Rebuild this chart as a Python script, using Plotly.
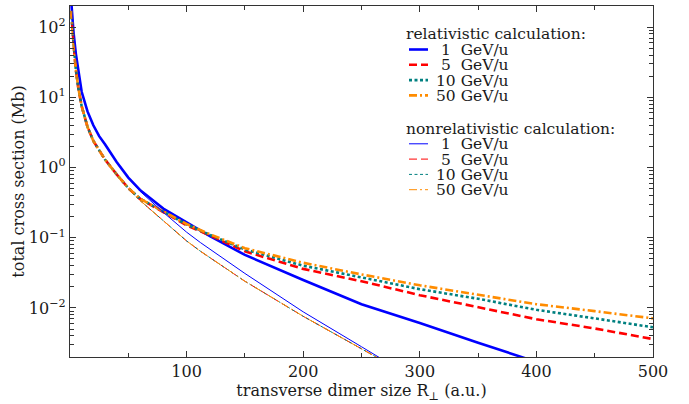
import plotly.graph_objects as go

# ---------------- data ----------------
R_rel = [1, 2, 3, 5, 7, 10, 15, 20, 25, 30, 40, 50, 60, 80, 100, 120, 150,
         200, 250, 300, 350, 400, 450, 500]
rel_1 = [240, 130, 85, 42, 24, 12, 6.3, 4.0, 2.8, 2.15, 1.2, 0.72, 0.48, 0.26,
         0.165, 0.105, 0.057, 0.025, 0.0113, 0.0061, 0.0032, 0.0017, None, None]
rel_5 = [170, 95, 60, 25, 14, 7.5, 3.8, 2.4, 1.75, 1.3, 0.8, 0.51, 0.36, 0.23,
         0.15, 0.108, 0.064, 0.036, 0.024, 0.0152, 0.0103, 0.0069, 0.0051, 0.0036]
rel_10 = [170, 95, 60, 25, 14, 7.5, 3.8, 2.4, 1.75, 1.3, 0.8, 0.51, 0.36, 0.235,
          0.155, 0.11, 0.068, 0.040, 0.027, 0.0185, 0.0135, 0.0094, 0.0071, 0.0053]
rel_50 = [170, 95, 60, 25, 14, 7.5, 3.8, 2.4, 1.75, 1.3, 0.8, 0.51, 0.36, 0.238,
          0.157, 0.112, 0.071, 0.044, 0.030, 0.021, 0.0155, 0.0113, 0.0090, 0.0071]

R_non = [1, 2, 3, 5, 7, 10, 15, 20, 25, 30, 40, 50, 60, 80, 100, 112, 150,
         200, 250, 265, 280]
non_1 = [240, 130, 85, 42, 24, 12, 6.3, 4.0, 2.8, 2.15, 1.2, 0.72, 0.46, 0.23,
         0.12, 0.085, 0.031, 0.0088, 0.0028, 0.0020, 0.0014]
non_5 = [170, 95, 60, 25, 14, 7.5, 3.8, 2.4, 1.75, 1.3, 0.8, 0.5, 0.34, 0.175,
         0.09, 0.064, 0.024, 0.0076, 0.0026, 0.0019, 0.0013]
non_10 = [170, 95, 60, 25, 14, 7.5, 3.8, 2.4, 1.75, 1.3, 0.8, 0.5, 0.34, 0.175,
          0.09, 0.064, 0.024, 0.0076, 0.0026, 0.0019, 0.0013]
non_50 = [170, 95, 60, 25, 14, 7.5, 3.8, 2.4, 1.75, 1.3, 0.8, 0.5, 0.34, 0.175,
          0.09, 0.064, 0.024, 0.0076, 0.0026, 0.0019, 0.0013]

labels = ["\u00a01\u00a0\u00a0GeV/u", "\u00a05\u00a0\u00a0GeV/u", "10 GeV/u", "50 GeV/u"]
group_titles = ["relativistic calculation:", "nonrelativistic calculation:"]
x_ticks = [100, 200, 300, 400, 500]
x_minor = [50, 150, 250, 350, 450]
y_ticks = [1e-2, 1e-1, 1e0, 1e1, 1e2]
y_ticktext = ["10<sup>\u22122</sup>", "10<sup>\u22121</sup>", "10<sup>0</sup>",
              "10<sup>1</sup>", "10<sup>2</sup>"]
y_minor = [m * 10 ** e for e in range(-3, 3) for m in range(2, 10)]

colors = ["#0000ff", "#ff0000", "#008080", "#ff8c00"]
dashes = ["solid", "8px,4px", "3px,2.5px", "8px,3px,2px,3px"]
widths = [2.6, 1.0]

FONT = "DejaVu Serif"
TXT = "#1a1a1a"
AX = "#333333"

# plot-area geometry (pixels) used for the hand-made legend
W, H = 689, 404
ML, MR, MT, MB = 70, 36, 6, 47
PW, PH = W - ML - MR, H - MT - MB


def px(x):
    return (x - ML) / PW


def py(y):
    return (H - MB - y) / PH


fig = go.Figure()
rel = [rel_1, rel_5, rel_10, rel_50]
non = [non_1, non_5, non_10, non_50]

for i in range(4):
    fig.add_trace(go.Scatter(
        x=R_rel, y=rel[i], mode="lines", name=labels[i], showlegend=False,
        line=dict(color=colors[i], width=widths[0], dash=dashes[i]),
    ))
for i in range(4):
    fig.add_trace(go.Scatter(
        x=R_non, y=non[i], mode="lines", name=labels[i], showlegend=False,
        line=dict(color=colors[i], width=widths[1], dash=dashes[i]),
    ))

# ---- legend drawn by hand (matplotlib-like compact layout) ----
title_y = [33.3, 128.3]
row_y = [[49.5, 64.8, 80.1, 95.4], [143.8, 159.1, 174.4, 189.7]]
for g in range(2):
    fig.add_annotation(
        x=px(405), y=py(title_y[g]), xref="paper", yref="paper",
        text=group_titles[g], showarrow=False, xanchor="left", yanchor="middle",
        font=dict(family=FONT, size=15.5, color=TXT), borderpad=0, height=15,
    )
    for i in range(4):
        yy = py(row_y[g][i])
        fig.add_shape(
            type="line", xref="paper", yref="paper",
            x0=px(409), x1=px(428), y0=yy, y1=yy,
            line=dict(color=colors[i], width=widths[g], dash=dashes[i]),
        )
        fig.add_annotation(
            x=px(435), y=yy, xref="paper", yref="paper",
            text=labels[i], showarrow=False, xanchor="left", yanchor="middle",
            font=dict(family=FONT, size=15.5, color=TXT), borderpad=0, height=15,
        )

axis_common = dict(
    showline=True, linecolor=AX, linewidth=1.3, mirror="ticks",
    ticks="inside", ticklen=6, tickwidth=1, tickcolor=AX,
    showgrid=False, zeroline=False, automargin=False,
    tickfont=dict(family=FONT, size=16, color=TXT),
)

fig.update_xaxes(
    range=[0, 500], tickvals=x_ticks,
    minor=dict(tickvals=x_minor, ticks="inside", ticklen=3.5, tickcolor=AX),
    title=dict(text="transverse dimer size R<sub>\u22a5</sub> (a.u.)",
               font=dict(family=FONT, size=16, color=TXT), standoff=2),
    **axis_common,
)
fig.update_yaxes(
    type="log", range=[-2.699, 2.301], tickvals=y_ticks, ticktext=y_ticktext,
    minor=dict(tickvals=y_minor, ticks="inside", ticklen=3.5, tickcolor=AX),
    title=dict(text="total cross section (Mb)",
               font=dict(family=FONT, size=16, color=TXT), standoff=0),
    **axis_common,
)

fig.update_layout(
    width=W, height=H,
    margin=dict(l=ML, r=MR, t=MT, b=MB),
    paper_bgcolor="white", plot_bgcolor="white",
    showlegend=False,
)

fig.write_html(
    "out.html",
    config={"displayModeBar": False},
    post_script="document.body.style.margin='0';document.body.style.overflow='hidden';",
)
